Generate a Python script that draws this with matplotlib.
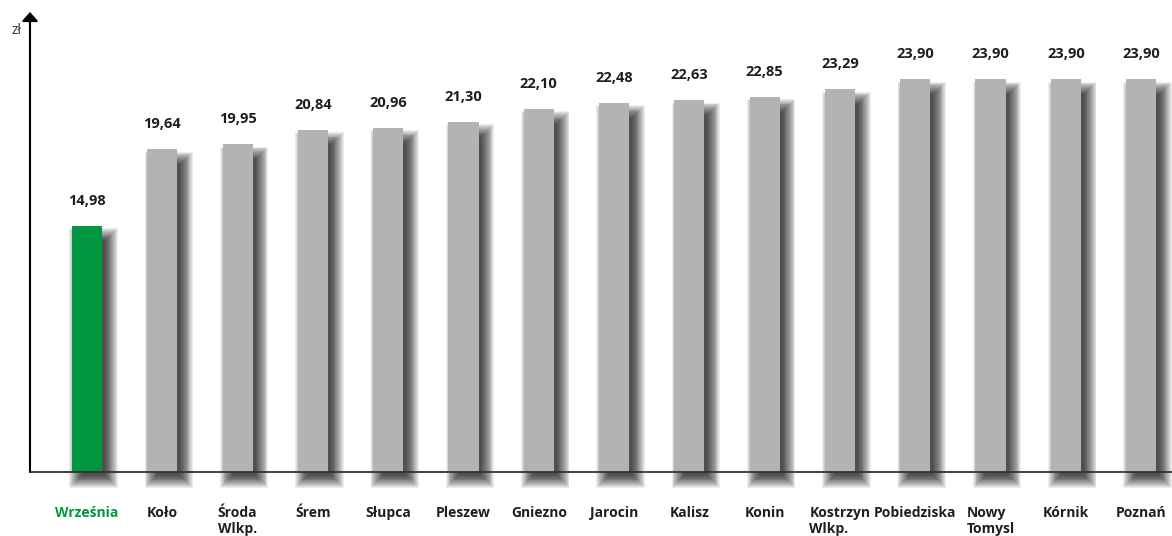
import matplotlib.pyplot as plt
from matplotlib.patches import Rectangle

# data
cities = ['Września', 'Koło', 'Środa\nWlkp.', 'Śrem', 'Słupca', 'Pleszew', 'Gniezno',
          'Jarocin', 'Kalisz', 'Konin', 'Kostrzyn\nWlkp.', 'Pobiedziska',
          'Nowy\nTomysl', 'Kórnik', 'Poznań']
prices = [14.98, 19.64, 19.95, 20.84, 20.96, 21.30, 22.10,
          22.48, 22.63, 22.85, 23.29, 23.90, 23.90, 23.90, 23.90]
highlight = 'Września'

green = '#009640'
gray = '#b3b3b3'
text_col = '#1e1e1e'

plt.rcParams['font.family'] = ['Open Sans', 'DejaVu Sans']

W, H = 1172, 536
# axes spans pixel rows 12..500, baseline (value 0) sits at row 472
fig = plt.figure(figsize=(W / 100, H / 100), dpi=100)
ax = fig.add_axes([30 / W, 1 - 500 / H, 1 - 30 / W, (500 - 12) / H])

# pixel -> data conversion for the shadow offsets
px_x = (14.41 + 0.757) / (W - 30)
px_y = 28 / 460.0

x = list(range(len(cities)))
ax.set_xlim(-0.757, 14.41)
ax.set_ylim(-28 * px_y, 28)
bar_w = 0.40

for i, (city, v) in enumerate(zip(cities, prices)):
    # soft drop shadow: many faint rectangles, each one a little larger
    for k in range(15):
        e = -3 + k * 0.9
        left = i - bar_w / 2 + (7 - e) * px_x
        right = i + bar_w / 2 + (6 + e) * px_x
        bottom = -(6 + e) * px_y
        top = v - (12 - e) * px_y
        r = Rectangle((left, bottom), right - left, top - bottom,
                      facecolor='black', edgecolor='none', alpha=0.07, zorder=1)
        ax.add_patch(r)

colors = [green if c == highlight else gray for c in cities]
bars = ax.bar(x, prices, width=bar_w, color=colors, zorder=3)

for b, v in zip(bars, prices):
    ax.annotate(f'{v:.2f}'.replace('.', ','), (b.get_x() + b.get_width() / 2, v),
                xytext=(0, 13), textcoords='offset points', ha='center', va='bottom',
                fontsize=10.5, fontweight='bold', color=text_col, zorder=5)

# axes drawn as arrows
for s in ax.spines.values():
    s.set_visible(False)
ax.axhline(0, color='#333333', lw=1.3, zorder=4)
ax.annotate('', xy=(-0.757, 28), xytext=(-0.757, 0),
            arrowprops=dict(arrowstyle='-|>,head_length=0.45,head_width=0.4',
                            mutation_scale=12, lw=1.5, color='black',
                            shrinkA=0, shrinkB=0),
            annotation_clip=False, zorder=6)
fig.text(16 / W, 1 - 31 / H, 'zł', ha='center', va='center', fontsize=10, color='#333333')

ax.set_yticks([])
ax.set_xticks(x, labels=cities)
ax.tick_params(axis='x', length=0, pad=4)
for lbl, c in zip(ax.get_xticklabels(), cities):
    lbl.set_multialignment('left')
    lbl.set_fontweight('bold')
    lbl.set_fontsize(10)
    lbl.set_color(green if c == highlight else text_col)

fig.savefig('out.png', dpi=100)
